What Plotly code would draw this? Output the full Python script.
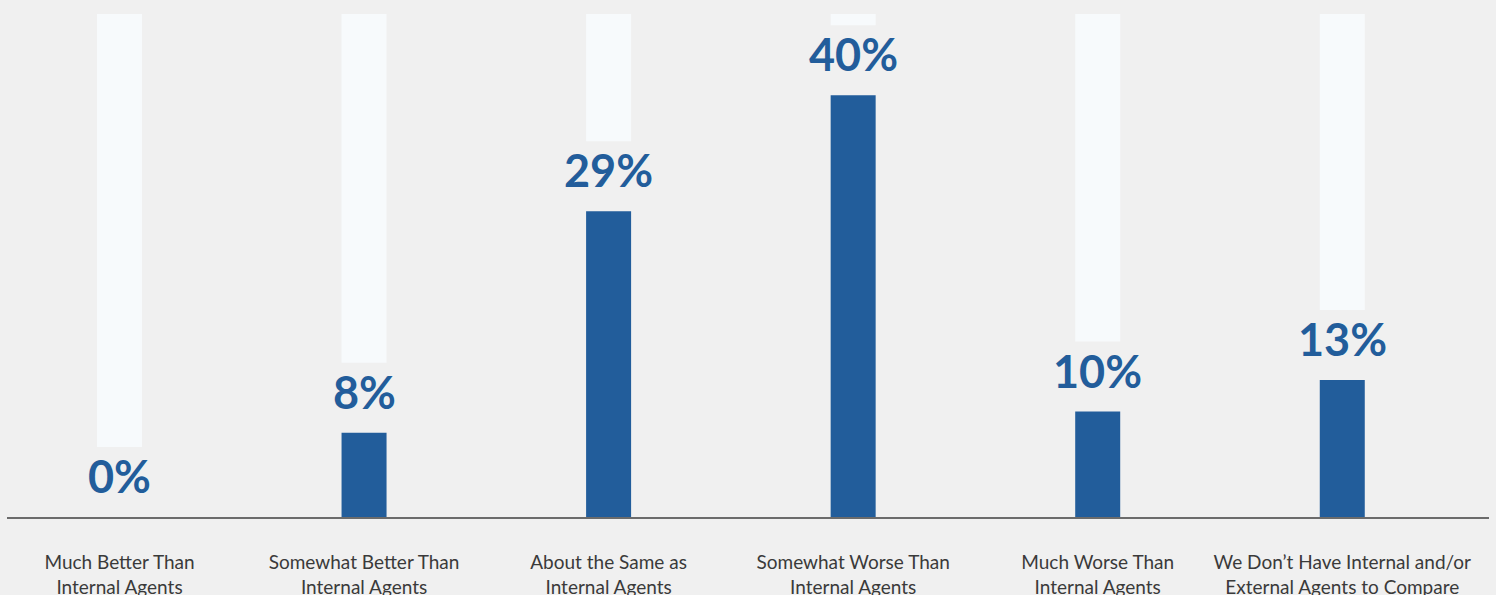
import plotly.graph_objects as go

categories = [
    "Much Better Than<br>Internal Agents",
    "Somewhat Better Than<br>Internal Agents",
    "About the Same as<br>Internal Agents",
    "Somewhat Worse Than<br>Internal Agents",
    "Much Worse Than<br>Internal Agents",
    "We Don\u2019t Have Internal and/or<br>External Agents to Compare",
]
values = [0, 8, 29, 40, 10, 13]
labels = [f"{v}%" for v in values]

W, H = 1496, 595
M_L, M_R, M_T, M_B = 7, 7, 14, 78
Y_MAX = 47.7
plot_h = H - M_T - M_B
units_per_px = Y_MAX / plot_h
GAP = 70 * units_per_px

fig = go.Figure()
# pale track bars above each label
fig.add_trace(go.Bar(
    x=categories, y=[Y_MAX - (v + GAP) for v in values], base=[v + GAP for v in values],
    marker=dict(color="#f7fafc", line=dict(width=0)), width=0.184, hoverinfo="skip",
))
fig.add_trace(go.Bar(
    x=categories, y=values,
    marker=dict(color="#225d9b", line=dict(width=0)), width=0.184,
))
for c, v, t in zip(categories, values, labels):
    fig.add_annotation(x=c, y=v, text=f"<b>{t}</b>", showarrow=False,
                       yanchor="bottom", yshift=12,
                       font=dict(family="Lato", size=45, color="#225d9b"))

fig.update_layout(
    width=W, height=H, barmode="overlay", showlegend=False,
    paper_bgcolor="#f0f0f0", plot_bgcolor="#f0f0f0",
    margin=dict(l=M_L, r=M_R, t=M_T, b=M_B, autoexpand=False),
    xaxis=dict(range=[-0.46, 5.6], showline=True, linecolor="#6b6b6b", linewidth=2,
               showgrid=False, ticks="", ticklabelstandoff=27, automargin=False,
               tickfont=dict(family="Lato", size=19, color="#3a3a3a")),
    yaxis=dict(range=[0, Y_MAX], visible=False, showgrid=False, zeroline=False,
               automargin=False),
)
fig.write_html("out.html")
